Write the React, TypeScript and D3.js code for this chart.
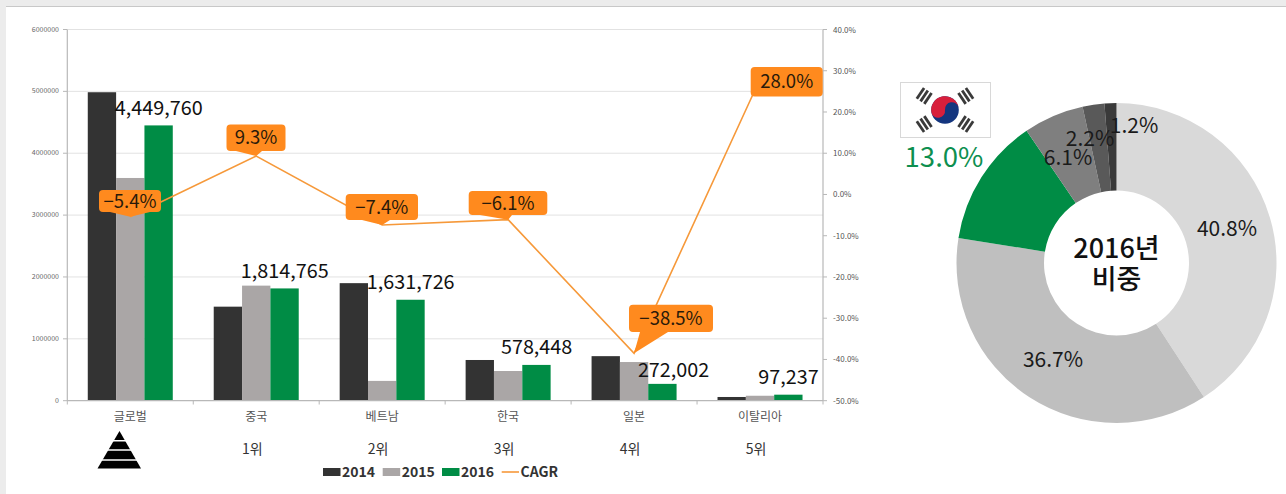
import React from "react";
import * as d3 from "d3";

const categories = ["글로벌", "중국", "베트남", "한국", "일본", "이탈리아"];
const ranks = ["", "1위", "2위", "3위", "4위", "5위"];
const years = ["2014", "2015", "2016"];
const values2014 = [4986000, 1520000, 1900000, 658000, 720000, 60000];
const values2015 = [3600000, 1860000, 320000, 480000, 625000, 80000];
const values2016 = [4449760, 1814765, 1631726, 578448, 272002, 97237];
const cagr = [-5.4, 9.3, -7.4, -6.1, -38.5, 28.0];
const leftTicks = [0, 1000000, 2000000, 3000000, 4000000, 5000000, 6000000];
const rightTicks = [-50, -40, -30, -20, -10, 0, 10, 20, 30, 40];
const pieValues = [40.8, 36.7, 13.0, 6.1, 2.2, 1.2];
const pieColors = ["#d9d9d9", "#bfbfbf", "#008c45", "#7f7f7f", "#595959", "#3a3a3a"];

const W = 1286, H = 494;
const FONT = "'Noto Sans CJK KR','Noto Sans',sans-serif";
const ORANGE = "#ff8a1e";
const LINE = "#f6993a";
const barColors = ["#333333", "#aaa6a6", "#008c45"];

// callout boxes [x0, x1, y0, y1]
const boxes = [
  [99, 161, 190, 212],
  [226.5, 285.5, 124.5, 151],
  [345.7, 418, 194, 220],
  [468.7, 547.3, 191, 215],
  [629, 713, 304.7, 332],
  [750.7, 822.7, 67, 96.5],
];
// pointer base on the box bottom edge [x0, x1]; null = none
const pointers: (number[] | null)[] = [
  [110, 150],
  [236, 262],
  [362, 390],
  [480, 512],
  [640, 668],
  null,
];
const labelShift = [[0, 0], [0, 0], [0, 0], [0, 0], [11, 4], [0, 0]];
const pieLabelPos = [[1227, 229], [1053, 360], null, [1068, 158], [1090, 139], [1134, 126]];

function Callout({ i, px, py }: { i: number; px: number; py: number }) {
  const [x0, x1, y0, y1] = boxes[i];
  const r = 4;
  const p = pointers[i];
  const d = p
    ? `M${x0 + r},${y0}H${x1 - r}Q${x1},${y0} ${x1},${y0 + r}V${y1 - r}Q${x1},${y1} ${x1 - r},${y1}H${p[1]}L${px},${py}L${p[0]},${y1}H${x0 + r}Q${x0},${y1} ${x0},${y1 - r}V${y0 + r}Q${x0},${y0} ${x0 + r},${y0}Z`
    : `M${x0 + r},${y0}H${x1 - r}Q${x1},${y0} ${x1},${y0 + r}V${y1 - r}Q${x1},${y1} ${x1 - r},${y1}H${x0 + r}Q${x0},${y1} ${x0},${y1 - r}V${y0 + r}Q${x0},${y0} ${x0 + r},${y0}Z`;
  return (
    <g>
      <path d={d} fill={ORANGE} />
      <text x={(x0 + x1) / 2} y={(y0 + y1) / 2 + 6.5} textAnchor="middle" fontSize={18.5} fill="#2a1a0a">
        {cagr[i] < 0 ? "−" + Math.abs(cagr[i]).toFixed(1) : cagr[i].toFixed(1)}%
      </text>
    </g>
  );
}

function Flag() {
  const cx = 945, cy = 110, r = 13.8;
  const arc = d3.path();
  arc.arc(cx, cy, r, Math.PI, 0, false);
  arc.arc(cx + r / 2, cy, r / 2, 0, Math.PI, true);
  arc.arc(cx - r / 2, cy, r / 2, 0, Math.PI, false);
  arc.closePath();
  const angles = [-56, 56, -124, 124];
  return (
    <g>
      <rect x={900.5} y={82.5} width={90} height={55} fill="#fff" stroke="#d8d8d8" />
      <circle cx={cx} cy={cy} r={r} fill="#14367f" />
      <path d={arc.toString()} fill="#d81f3c" transform={`rotate(-8 ${cx} ${cy})`} />
      {angles.map((a) => (
        <g key={a} transform={`translate(${cx},${cy}) rotate(${a})`}>
          {[-31, -26.5, -22].map((dy) => (
            <rect key={dy} x={-6.5} y={dy} width={13} height={2.8} fill="#3a3a3a" />
          ))}
        </g>
      ))}
    </g>
  );
}

export default function App() {
  const x = d3.scaleBand<string>().domain(categories).range([67.3, 823]);
  const sub = d3.scaleBand<string>().domain(years).range([-42.5, 42.5]);
  const y = d3.scaleLinear().domain([0, 6000000]).range([400.7, 29.5]);
  const yR = d3.scaleLinear().domain([-50, 40]).range([400.7, 29.5]);
  const series = [values2014, values2015, values2016];
  const cx = (c: string) => (x(c) as number) + x.bandwidth() / 2;
  const line = d3
    .line<number>()
    .x((_, i) => cx(categories[i]))
    .y((d) => yR(d))(cagr) as string;

  const pie = d3.pie<number>().sort(null).value((d) => d)(pieValues);
  const arc = d3.arc<d3.PieArcDatum<number>>().innerRadius(72.5).outerRadius(160);
  const boundaries = d3.range(categories.length + 1).map((i) => 67.3 + i * x.bandwidth());

  return (
    <svg width={W} height={H} style={{ position: "absolute", left: 0, top: 0, fontFamily: FONT }}>
      <rect width={W} height={H} fill="#ececec" />
      <rect x={6} y={6} width={W - 6} height={H - 6} fill="#fff" />
      <line x1={6} x2={W} y1={6.5} y2={6.5} stroke="#c8c8c8" />

      {leftTicks.slice(1).map((t) => (
        <line key={t} x1={67} x2={823} y1={y(t)} y2={y(t)} stroke="#e2e2e2" />
      ))}

      {series.map((vals, s) =>
        categories.map((c, i) => (
          <rect
            key={c + s}
            x={cx(c) + (sub(years[s]) as number)}
            y={y(vals[i])}
            width={sub.bandwidth()}
            height={y(0) - y(vals[i])}
            fill={barColors[s]}
          />
        ))
      )}

      <line x1={67.3} x2={67.3} y1={29.5} y2={400.7} stroke="#b8b8b8" strokeWidth={1.2} />
      <line x1={823} x2={823} y1={29.5} y2={400.7} stroke="#b8b8b8" strokeWidth={1.2} />
      <line x1={67} x2={823} y1={400.7} y2={400.7} stroke="#b8b8b8" strokeWidth={1.2} />
      {leftTicks.map((t) => (
        <g key={t}>
          <line x1={63} x2={67} y1={y(t)} y2={y(t)} stroke="#b8b8b8" />
          <text x={59} y={y(t) + 2} textAnchor="end" fontSize={7} fill="#666">
            {t}
          </text>
        </g>
      ))}
      {rightTicks.map((t) => (
        <g key={t}>
          <line x1={823} x2={827} y1={yR(t)} y2={yR(t)} stroke="#b8b8b8" />
          <text x={833} y={yR(t) + 3} fontSize={8} fill="#555">
            {t.toFixed(1)}%
          </text>
        </g>
      ))}
      {boundaries.map((b) => (
        <line key={b} x1={b} x2={b} y1={400.7} y2={404.5} stroke="#b8b8b8" />
      ))}

      <path d={line} fill="none" stroke={LINE} strokeWidth={1.6} />

      {values2016.map((v, i) => (
        <text
          key={v}
          x={cx(categories[i]) + 28.5 + labelShift[i][0]}
          y={y(v) - 10.5 + labelShift[i][1]}
          textAnchor="middle"
          fontSize={19.8}
          fill="#111"
        >
          {d3.format(",")(v)}
        </text>
      ))}

      {cagr.map((v, i) => (
        <Callout key={i} i={i} px={cx(categories[i])} py={yR(v)} />
      ))}

      {categories.map((c) => (
        <text key={c} x={cx(c)} y={421} textAnchor="middle" fontSize={12} fill="#555">
          {c}
        </text>
      ))}
      {ranks.map((r, i) =>
        r ? (
          <text key={r} x={cx(categories[i]) - 4} y={454} textAnchor="middle" fontSize={14} fill="#333">
            {r}
          </text>
        ) : null
      )}

      <path d="M119.5,431L141,468.5H97.5Z" fill="#000" />
      {[440.7, 450, 460].map((yy) => (
        <line key={yy} x1={95} x2={144} y1={yy} y2={yy} stroke="#fff" strokeWidth={1.4} />
      ))}

      {/* legend */}
      {years.map((yr, i) => {
        const sx = [323, 382.7, 442][i];
        return (
          <g key={yr}>
            <rect x={sx} y={468} width={17.5} height={8} fill={barColors[i]} />
            <text x={sx + 19} y={477} fontSize={14} fontWeight={700} fill="#333">
              {yr}
            </text>
          </g>
        );
      })}
      <line x1={501.7} x2={519} y1={472} y2={472} stroke={LINE} strokeWidth={1.6} />
      <text x={520.5} y={477} fontSize={14} fontWeight={700} fill="#333">
        CAGR
      </text>

      {/* pie */}
      <g transform="translate(1116.5,263)">
        {pie.map((d, i) => (
          <path key={i} d={arc(d) as string} fill={pieColors[i]} />
        ))}
      </g>
      {pieValues.map((v, i) => {
        const p = pieLabelPos[i];
        return p ? (
          <text key={i} x={p[0]} y={p[1] + 7} textAnchor="middle" fontSize={21} fill="#1a1a1a">
            {v.toFixed(1)}%
          </text>
        ) : null;
      })}
      <text x={1116.5} y={258} textAnchor="middle" fontSize={27} fontWeight={500} fill="#111">
        2016년
      </text>
      <text x={1116.5} y={289} textAnchor="middle" fontSize={27} fontWeight={500} fill="#111">
        비중
      </text>

      <Flag />
      <text x={944} y={167} textAnchor="middle" fontSize={27.5} fill="#0d8f4f">
        {pieValues[2].toFixed(1)}%
      </text>
    </svg>
  );
}
